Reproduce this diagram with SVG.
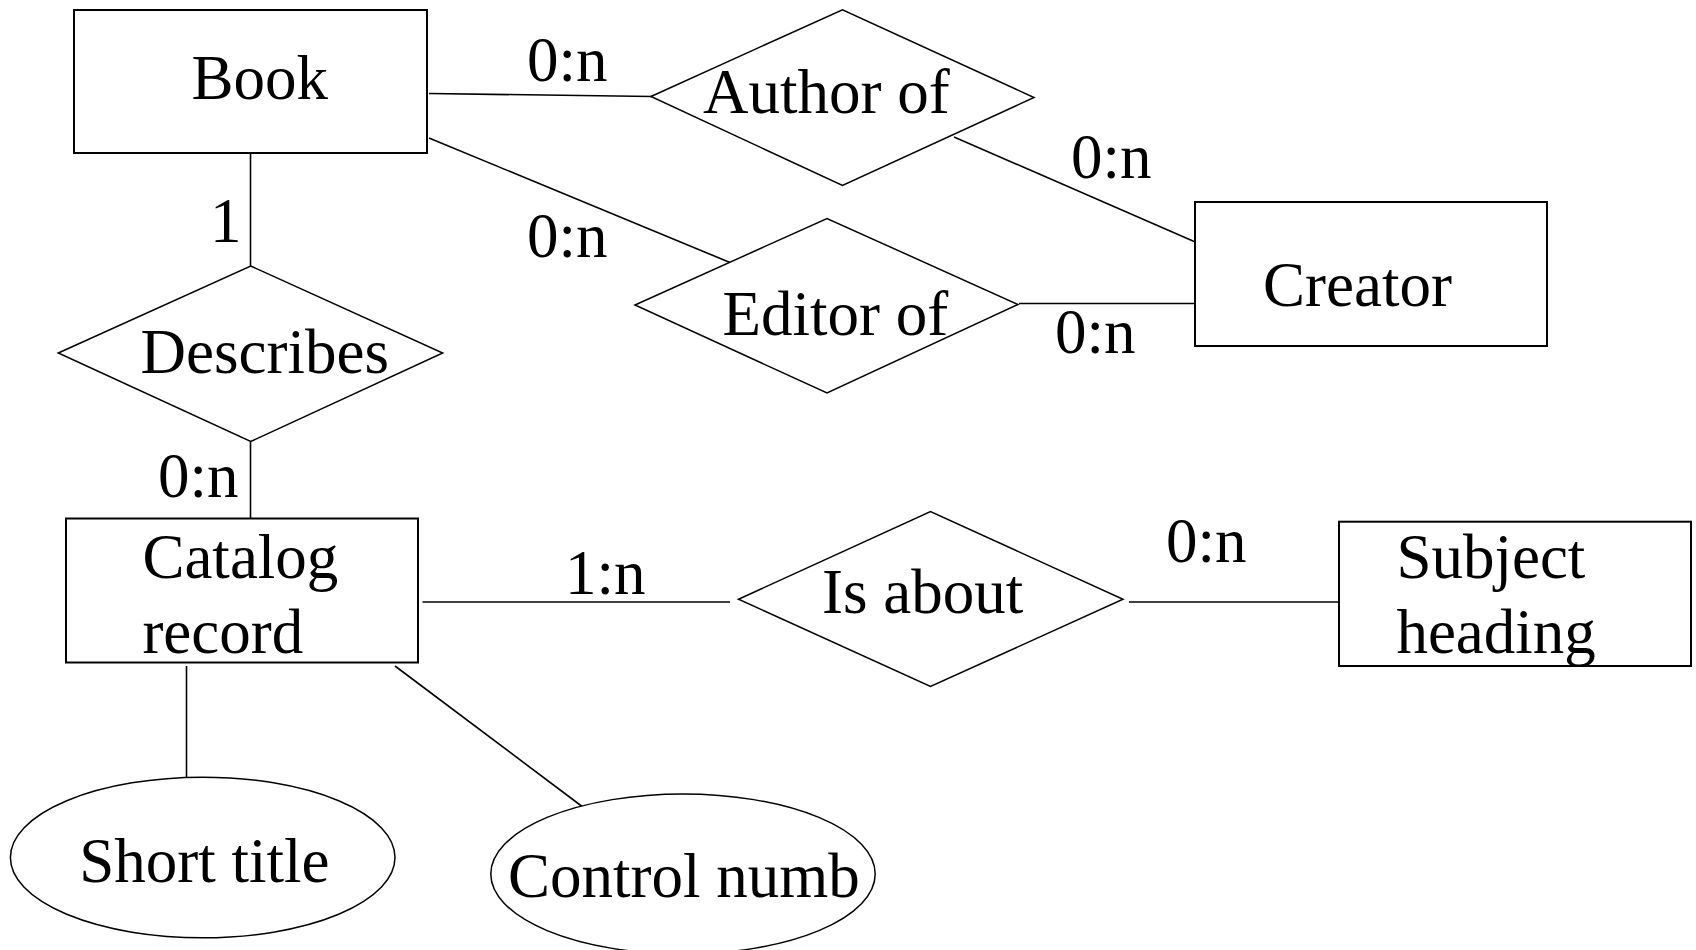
<svg xmlns="http://www.w3.org/2000/svg" width="1696" height="950" viewBox="0 0 1696 950">
<style>
text{font-family:"Liberation Serif","Times New Roman",serif;font-size:63px;fill:#000}
.ent{fill:#fff;stroke:#000;stroke-width:2}
.rel{fill:#fff;stroke:#000;stroke-width:1.5}
.att{fill:#fff;stroke:#000;stroke-width:1.5}
.con line{stroke:#000;stroke-width:1.6}
</style>
<rect width="1696" height="950" fill="#fff"/>
<g id="connectors" class="con">
<line x1="429" y1="93.5" x2="652" y2="96.5"/>
<line x1="429" y1="138" x2="730" y2="262.5"/>
<line x1="954" y1="137" x2="1201" y2="244.5"/>
<line x1="1019" y1="303.5" x2="1195" y2="303.5"/>
<line x1="250.5" y1="153" x2="250.5" y2="266"/>
<line x1="250.5" y1="441" x2="250.5" y2="520"/>
<line x1="422.5" y1="602" x2="730" y2="602"/>
<line x1="1129" y1="602" x2="1338" y2="602"/>
<line x1="186.5" y1="666" x2="186.5" y2="777.5"/>
<line x1="395" y1="666" x2="585.5" y2="809"/>
</g>
<g id="labels">
<text x="527" y="81">0:n</text>
<text x="527" y="257">0:n</text>
<text x="1071" y="178">0:n</text>
<text x="1055" y="353">0:n</text>
<text x="210" y="242">1</text>
<text x="158" y="497">0:n</text>
<text x="565" y="593.5">1:n</text>
<text x="1166" y="562">0:n</text>
</g>
<g id="book">
<rect class="ent" x="74" y="10" width="353" height="143"/>
<text x="191.5" y="98.5">Book</text>
</g>
<g id="author-of">
<polygon class="rel" points="651,96.5 842.5,9.7 1034,97.5 842.5,185.5"/>
<text x="703" y="113">Author of</text>
</g>
<g id="editor-of">
<polygon class="rel" points="635,305 827,218.5 1018,304.5 827,393"/>
<text x="722.5" y="335">Editor of</text>
</g>
<g id="creator">
<rect class="ent" x="1195" y="202" width="352" height="144"/>
<text x="1263" y="306">Creator</text>
</g>
<g id="describes">
<polygon class="rel" points="58.3,353 250.7,266 442.7,353 250.7,441.5"/>
<text x="140.6" y="373.3">Describes</text>
</g>
<g id="catalog-record">
<rect class="ent" x="66" y="518.5" width="352" height="144"/>
<text x="142.4" y="578.3">Catalog</text>
<text x="142.4" y="652.7">record</text>
</g>
<g id="is-about">
<polygon class="rel" points="738.5,599.2 930.5,511.5 1123,599.3 930.5,686.5"/>
<text x="822" y="613.3">Is about</text>
</g>
<g id="subject-heading">
<rect class="ent" x="1339" y="521.7" width="352" height="144.3"/>
<text x="1396.4" y="578.3">Subject</text>
<text x="1396.4" y="653.3">heading</text>
</g>
<g id="short-title">
<ellipse class="att" cx="202.7" cy="857.5" rx="192.3" ry="80.3"/>
<text x="79.2" y="881.7">Short title</text>
</g>
<g id="control-numb">
<ellipse class="att" cx="683" cy="874" rx="192.2" ry="80"/>
<text x="508" y="896.7">Control numb</text>
</g>
</svg>
